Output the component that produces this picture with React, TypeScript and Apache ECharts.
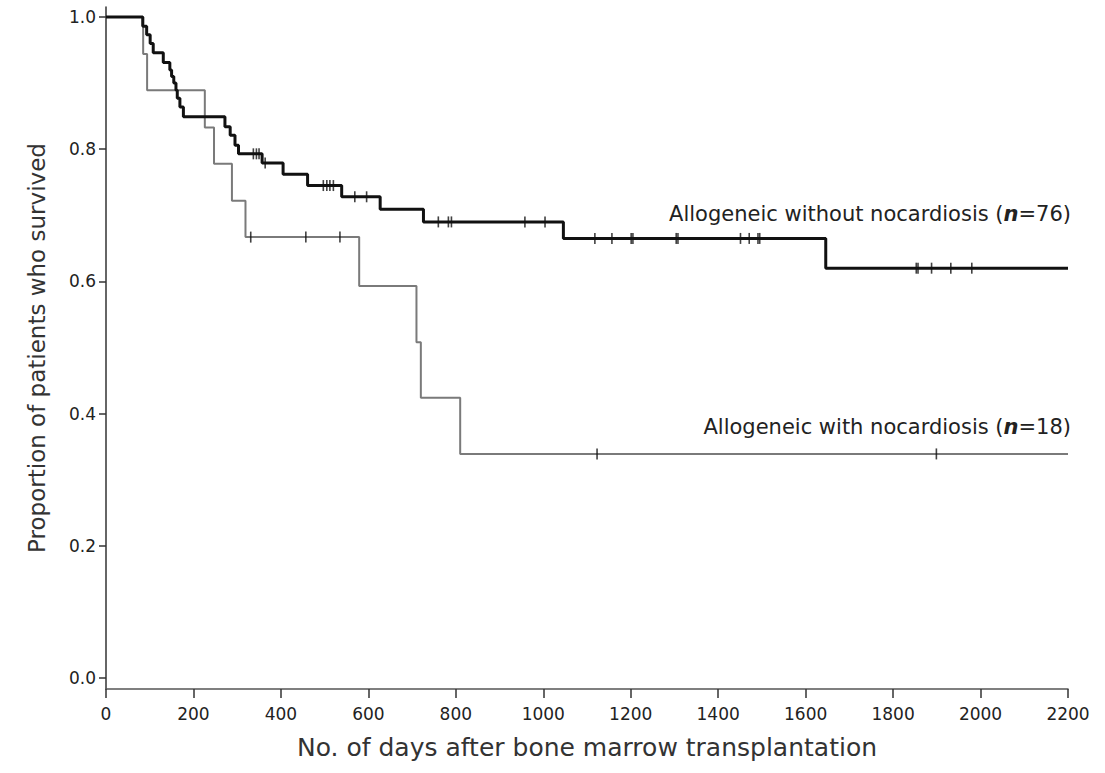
import React, { useEffect, useRef } from "react";
import * as echarts from "echarts";

// Allogeneic without nocardiosis (n=76): step times (days) and survival after each step
const noNocTimes = [0, 84, 93, 101, 108, 131, 146, 150, 155, 160, 163, 169, 177, 272, 284, 295, 303, 357, 405, 461, 539, 627, 726, 1046, 1646, 2200];
const noNocSurv = [1.0, 0.986, 0.973, 0.96, 0.946, 0.931, 0.92, 0.91, 0.9, 0.889, 0.877, 0.864, 0.849, 0.834, 0.821, 0.806, 0.793, 0.779, 0.762, 0.745, 0.728, 0.709, 0.69, 0.665, 0.62, 0.62];
const noNocCensored = [337, 344, 350, 364, 497, 505, 512, 520, 569, 596, 760, 783, 790, 958, 1004, 1118, 1157, 1201, 1205, 1304, 1308, 1451, 1471, 1491, 1495, 1853, 1857, 1888, 1932, 1980];

// Allogeneic with nocardiosis (n=18)
const nocTimes = [0, 85, 94, 226, 247, 288, 319, 579, 710, 720, 810, 2200];
const nocSurv = [1.0, 0.944, 0.889, 0.833, 0.778, 0.722, 0.667, 0.593, 0.508, 0.424, 0.339, 0.339];
const nocCensored = [331, 457, 535, 1123, 1899];

const yTickValues = [0, 0.2, 0.4, 0.6, 0.8, 1.0];
const xAxisTitle = "No. of days after bone marrow transplantation";
const yAxisTitle = "Proportion of patients who survived";

function survivalAt(times: number[], surv: number[], t: number) {
  let s = surv[0];
  for (let i = 0; i < times.length; i++) {
    if (times[i] <= t) s = surv[i];
  }
  return s;
}

export default function App() {
  const ref = useRef<HTMLDivElement>(null);
  useEffect(() => {
    if (!ref.current) return;
    const chart = echarts.init(ref.current, undefined, { renderer: "svg" });
    const font = "DejaVu Sans";
    const rich = {
      a: { fontFamily: font, fontSize: 21, fill: "#222", color: "#222" },
      i: { fontFamily: font, fontSize: 21, fontStyle: "italic", fontWeight: "bold", fill: "#222", color: "#222" },
    };
    chart.setOption({
      animation: false,
      backgroundColor: "#fff",
      grid: { left: 106, right: 37, top: 7, bottom: 84 },
      xAxis: {
        type: "value",
        min: 0,
        max: 2200,
        interval: 200,
        splitLine: { show: false },
        axisLine: { onZero: false, lineStyle: { color: "#555", width: 1.5 } },
        axisTick: { length: 9, lineStyle: { color: "#333", width: 1.5 } },
        axisLabel: { margin: 16, color: "#222", fontFamily: font, fontSize: 17, formatter: (v: number) => String(v) },
        name: xAxisTitle,
        nameLocation: "middle",
        nameGap: 46,
        nameTextStyle: { color: "#333", fontFamily: font, fontSize: 25 },
      },
      yAxis: {
        type: "value",
        min: -11 / 661,
        max: 1 + 10 / 661,
        splitLine: { show: false },
        axisLine: { show: true, onZero: false, lineStyle: { color: "#333", width: 1.5 } },
        axisTick: { show: true, length: 7, customValues: yTickValues, lineStyle: { color: "#333", width: 1.5 } },
        axisLabel: {
          customValues: yTickValues,
          margin: 10,
          color: "#222",
          fontFamily: font,
          fontSize: 17,
          formatter: (v: number) => v.toFixed(1),
        },
        name: yAxisTitle,
        nameLocation: "middle",
        nameGap: 58,
        nameTextStyle: { color: "#333", fontFamily: font, fontSize: 23 },
      },
      series: [
        {
          type: "line",
          step: "end",
          showSymbol: false,
          data: nocTimes.map((t, i) => [t, nocSurv[i]]),
          lineStyle: { color: "#7a7a7a", width: 2 },
          z: 2,
        },
        {
          type: "line",
          step: "end",
          showSymbol: false,
          data: noNocTimes.map((t, i) => [t, noNocSurv[i]]),
          lineStyle: { color: "#111", width: 3 },
          z: 3,
        },
        {
          type: "scatter",
          symbol: "rect",
          symbolSize: [1.6, 11],
          itemStyle: { color: "#111" },
          data: nocCensored.map((t) => [t, survivalAt(nocTimes, nocSurv, t)]),
          z: 4,
        },
        {
          type: "scatter",
          symbol: "rect",
          symbolSize: [1.6, 11],
          itemStyle: { color: "#111" },
          data: noNocCensored.map((t) => [t, survivalAt(noNocTimes, noNocSurv, t)]),
          z: 4,
        },
      ],
      graphic: [
        {
          type: "text",
          x: 1071,
          y: 214,
          style: {
            text: "{a|Allogeneic without nocardiosis (}{i|n}{a|=76)}",
            rich,
            align: "right",
            verticalAlign: "middle",
          },
        },
        {
          type: "text",
          x: 1071,
          y: 427,
          style: {
            text: "{a|Allogeneic with nocardiosis (}{i|n}{a|=18)}",
            rich,
            align: "right",
            verticalAlign: "middle",
          },
        },
      ],
    });
    return () => chart.dispose();
  }, []);
  return (
    <div
      ref={ref}
      style={{ position: "fixed", left: 0, top: 0, width: 1105, height: 773 }}
    />
  );
}
